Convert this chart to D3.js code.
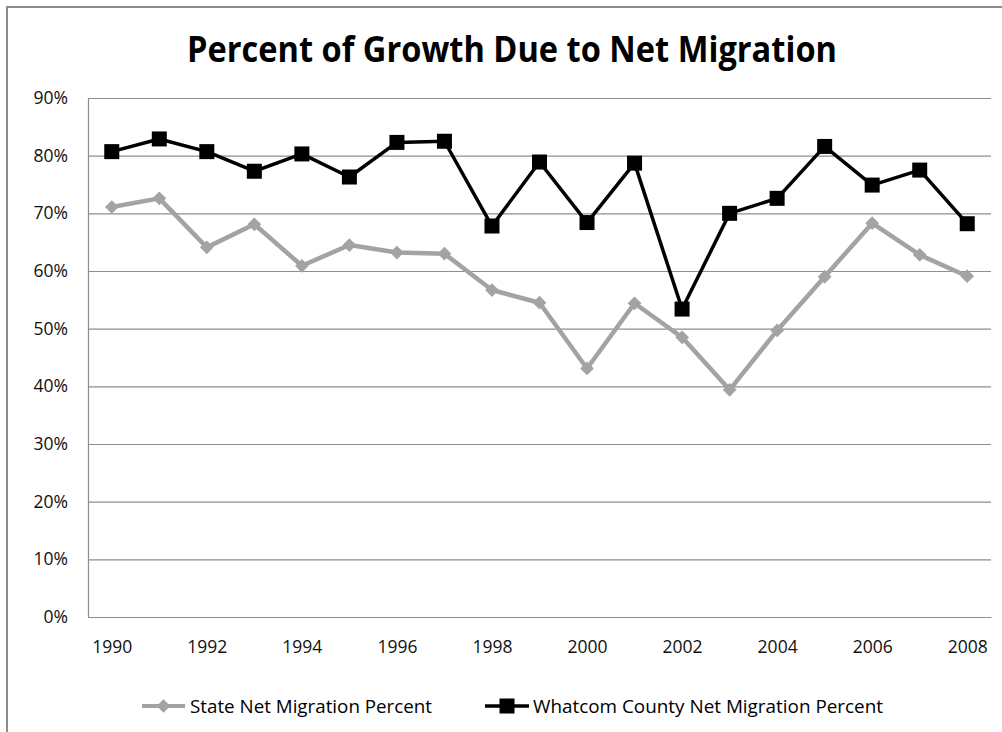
<!DOCTYPE html>
<html>
<head>
<meta charset="utf-8">
<script src="https://cdn.jsdelivr.net/npm/d3@7"></script>
<style>
  html, body { margin: 0; padding: 0; background: #fff; }
  svg { display: block; font-family: "Open Sans", "Noto Sans", sans-serif; }
</style>
</head>
<body>
<svg id="chart" width="1002" height="732"></svg>
<script>
// Years on the category axis
const years = [1990, 1991, 1992, 1993, 1994, 1995, 1996, 1997, 1998, 1999,
               2000, 2001, 2002, 2003, 2004, 2005, 2006, 2007, 2008];
// Labelled years (every other year)
const yearLabels = [1990, 1992, 1994, 1996, 1998, 2000, 2002, 2004, 2006, 2008];
// Share of population growth due to net migration
const stateValues = [0.711, 0.726, 0.641, 0.681, 0.609, 0.645, 0.632, 0.630, 0.567, 0.545,
                     0.431, 0.544, 0.485, 0.394, 0.497, 0.590, 0.683, 0.628, 0.591];
const whatcomValues = [0.807, 0.829, 0.807, 0.773, 0.803, 0.763, 0.823, 0.825, 0.678, 0.789,
                       0.684, 0.787, 0.534, 0.700, 0.726, 0.816, 0.749, 0.775, 0.682];
const yTicks = [0, 0.1, 0.2, 0.3, 0.4, 0.5, 0.6, 0.7, 0.8, 0.9];
const seriesNames = ["State Net Migration Percent", "Whatcom County Net Migration Percent"];
const titleText = "Percent of Growth Due to Net Migration";

const svg = d3.select("#chart");

// Outer chart frame (left and top edges)
svg.append("path")
  .attr("d", "M7,732 L7,7 L1002,7")
  .attr("fill", "none")
  .attr("stroke", "#8c8c8c")
  .attr("stroke-width", 2);

const plot = { left: 88, right: 991, top: 98, bottom: 617 };

const x = d3.scalePoint().domain(years).range([plot.left, plot.right]).padding(0.5);
const y = d3.scaleLinear().domain([0, 0.9]).range([plot.bottom, plot.top]);

// Title
svg.append("text")
  .attr("x", 512).attr("y", 62)
  .attr("text-anchor", "middle")
  .attr("font-size", 35)
  .attr("font-weight", 700)
  .attr("fill", "#000")
  .attr("textLength", 650)
  .attr("lengthAdjust", "spacingAndGlyphs")
  .text(titleText);

// Horizontal gridlines
svg.append("g")
  .attr("transform", `translate(${plot.left},0)`)
  .call(d3.axisLeft(y).tickValues(yTicks).tickSize(-(plot.right - plot.left)).tickFormat(""))
  .call(g => g.select(".domain").remove())
  .call(g => g.selectAll("line").attr("stroke", "#8e8e8e").attr("stroke-width", 1.2));

// Y axis
svg.append("g")
  .attr("transform", `translate(${plot.left},0)`)
  .call(d3.axisLeft(y).tickValues(yTicks).tickSize(0).tickPadding(20).tickFormat(d3.format(".0%")))
  .call(g => g.select(".domain").attr("stroke", "#8e8e8e").attr("stroke-width", 1.2))
  .call(g => g.selectAll("text").attr("font-size", 17.5).attr("fill", "#111")
      .attr("font-family", "'Open Sans', sans-serif"));

// X axis
svg.append("g")
  .attr("transform", `translate(0,${plot.bottom})`)
  .call(d3.axisBottom(x).tickValues(yearLabels).tickSize(0).tickPadding(24))
  .call(g => g.select(".domain").attr("stroke", "#8e8e8e").attr("stroke-width", 1.2))
  .call(g => g.selectAll("text").attr("font-size", 17.5).attr("fill", "#111")
      .attr("font-family", "'Open Sans', sans-serif"));

const line = d3.line().x((d, i) => x(years[i])).y(d => y(d));
const diamond = d3.symbol().type(d3.symbolDiamond2).size(120);

// State series: grey line with diamonds
svg.append("path")
  .datum(stateValues)
  .attr("fill", "none")
  .attr("stroke", "#a3a3a3")
  .attr("stroke-width", 4.5)
  .attr("stroke-linejoin", "round")
  .attr("d", line);
svg.append("g").selectAll("path")
  .data(stateValues)
  .join("path")
  .attr("transform", (d, i) => `translate(${x(years[i])},${y(d)})`)
  .attr("d", diamond)
  .attr("fill", "#a3a3a3");

// Whatcom County series: black line with squares
svg.append("path")
  .datum(whatcomValues)
  .attr("fill", "none")
  .attr("stroke", "#000")
  .attr("stroke-width", 3.5)
  .attr("stroke-linejoin", "round")
  .attr("d", line);
svg.append("g").selectAll("rect")
  .data(whatcomValues)
  .join("rect")
  .attr("x", (d, i) => x(years[i]) - 7.5)
  .attr("y", d => y(d) - 7.5)
  .attr("width", 15).attr("height", 15)
  .attr("fill", "#000");

// Legend
const legendY = 706;
const legend = svg.append("g");
// State entry
legend.append("line")
  .attr("x1", 142).attr("x2", 185).attr("y1", legendY).attr("y2", legendY)
  .attr("stroke", "#a3a3a3").attr("stroke-width", 4);
legend.append("path")
  .attr("transform", `translate(163.5,${legendY})`)
  .attr("d", diamond)
  .attr("fill", "#a3a3a3");
legend.append("text")
  .attr("x", 190).attr("y", legendY + 6.5)
  .attr("font-size", 18).attr("fill", "#000")
  .attr("textLength", 242).attr("lengthAdjust", "spacingAndGlyphs")
  .text(seriesNames[0]);
// Whatcom entry
legend.append("line")
  .attr("x1", 485).attr("x2", 529).attr("y1", legendY).attr("y2", legendY)
  .attr("stroke", "#000").attr("stroke-width", 3.5);
legend.append("rect")
  .attr("x", 507 - 7.5).attr("y", legendY - 7.5)
  .attr("width", 15).attr("height", 15)
  .attr("fill", "#000");
legend.append("text")
  .attr("x", 533).attr("y", legendY + 6.5)
  .attr("font-size", 18).attr("fill", "#000")
  .attr("textLength", 350).attr("lengthAdjust", "spacingAndGlyphs")
  .text(seriesNames[1]);
</script>
</body>
</html>
